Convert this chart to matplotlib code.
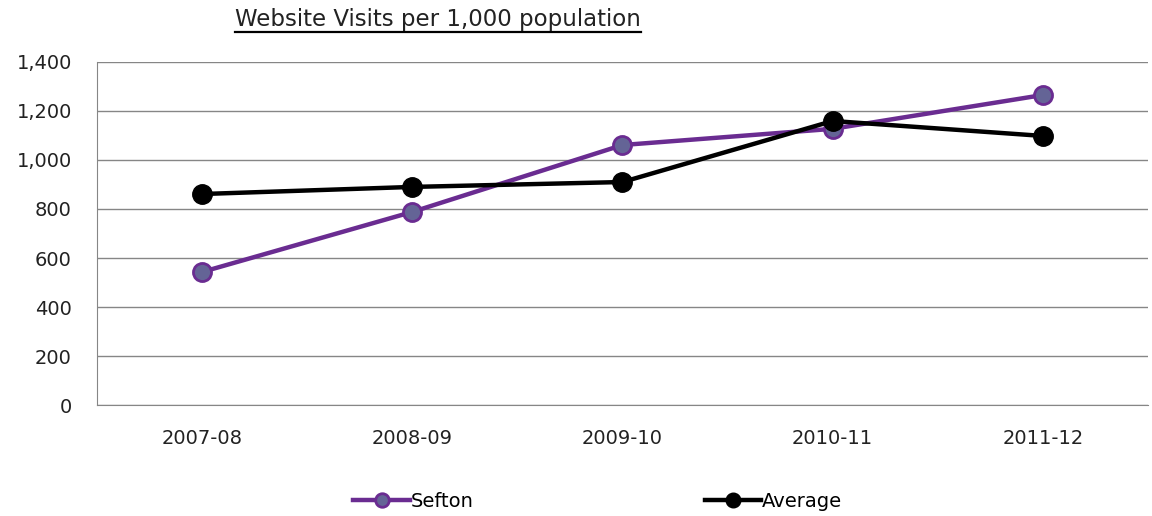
import matplotlib
matplotlib.use("Agg")
from matplotlib import pyplot as plt
from matplotlib.lines import Line2D

years = ["2007-08", "2008-09", "2009-10", "2010-11", "2011-12"]
sefton = [543, 788, 1061, 1127, 1265]
average = [861, 890, 910, 1159, 1098]

plt.rcParams['font.family'] = ['DejaVu Sans']

fig = plt.figure(figsize=(11.52, 5.16), dpi=100)
ax = fig.add_axes([0.0842, 0.215, 0.9123, 0.665])

x = list(range(len(years)))
ax.plot(x, sefton, color="#6a2c91", linewidth=3.2, marker="o", markersize=13,
        markerfacecolor="#646496", markeredgecolor="#6a2c91", markeredgewidth=2,
        label="Sefton", zorder=3)
ax.plot(x, average, color="black", linewidth=3.2, marker="o", markersize=14,
        markerfacecolor="black", markeredgecolor="black",
        label="Average", zorder=4)

ax.set_xlim(-0.5, len(years) - 0.5)
ax.set_ylim(0, 1400)
ax.set_yticks(range(0, 1401, 200))
ax.set_yticklabels([f"{v:,}" for v in range(0, 1401, 200)])
ax.set_xticks(x)
ax.set_xticklabels(years)
ax.tick_params(axis="both", length=0, labelsize=14, colors="#222222")
ax.tick_params(axis="y", pad=18)
ax.tick_params(axis="x", pad=17)

ax.grid(axis="y", color="#868686", linewidth=1)
ax.set_axisbelow(True)
for side in ["top", "right"]:
    ax.spines[side].set_visible(False)
ax.spines["left"].set_color("#868686")
ax.spines["bottom"].set_color("#868686")

# title with underline
title = fig.text(0.38, 0.963, "Website Visits per 1,000 population",
                 ha="center", va="center", fontsize=16.5, color="#222222")
fig.canvas.draw()
bb = title.get_window_extent().transformed(fig.transFigure.inverted())
fig.add_artist(Line2D([bb.x0, bb.x1], [bb.y0 - 0.002, bb.y0 - 0.002],
                      transform=fig.transFigure, color="black", linewidth=1.6))

fig.legend(loc="center", bbox_to_anchor=(0.519, 0.028), ncol=2, frameon=False,
           fontsize=14, handlelength=2.9, handletextpad=0.05, columnspacing=11.9,
           markerscale=0.75)

plt.savefig("out.png", dpi=100)
